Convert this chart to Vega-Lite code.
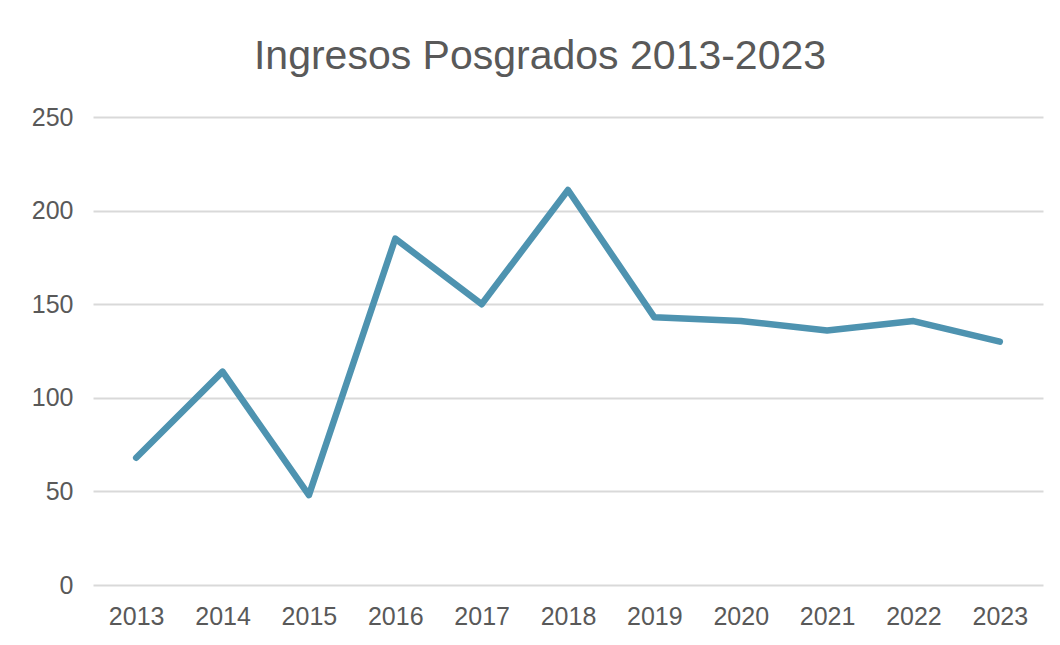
{
  "$schema": "https://vega.github.io/schema/vega-lite/v6.json",
  "autosize": "none",
  "width": 950,
  "height": 468,
  "padding": {"left": 93, "top": 117, "right": 17, "bottom": 60},
  "background": "white",
  "title": {
    "text": "Ingresos Posgrados 2013-2023",
    "font": "Liberation Sans",
    "fontSize": 41,
    "fontWeight": "normal",
    "color": "#595959",
    "anchor": "middle",
    "dx": -28,
    "offset": 27
  },
  "data": {
    "values": [
      {"year": "2013", "ingresos": 68},
      {"year": "2014", "ingresos": 114},
      {"year": "2015", "ingresos": 48},
      {"year": "2016", "ingresos": 185},
      {"year": "2017", "ingresos": 150},
      {"year": "2018", "ingresos": 211},
      {"year": "2019", "ingresos": 143},
      {"year": "2020", "ingresos": 141},
      {"year": "2021", "ingresos": 136},
      {"year": "2022", "ingresos": 141},
      {"year": "2023", "ingresos": 130}
    ]
  },
  "mark": {"type": "line", "color": "#4e93b0", "strokeWidth": 6.5, "strokeCap": "round", "strokeJoin": "round"},
  "encoding": {
    "x": {
      "field": "year",
      "type": "ordinal",
      "scale": {"type": "point", "padding": 0.5},
      "axis": {"title": null, "labelAngle": 0, "domain": false, "ticks": false, "grid": false, "labelPadding": 19}
    },
    "y": {
      "field": "ingresos",
      "type": "quantitative",
      "scale": {"domain": [0, 250]},
      "axis": {"title": null, "values": [0, 50, 100, 150, 200, 250], "domain": false, "ticks": false, "labelPadding": 20, "gridColor": "#d9d9d9", "gridWidth": 2}
    }
  },
  "config": {
    "view": {"stroke": null},
    "axis": {"labelFont": "Liberation Sans", "labelFontSize": 25, "labelColor": "#595959"}
  }
}
